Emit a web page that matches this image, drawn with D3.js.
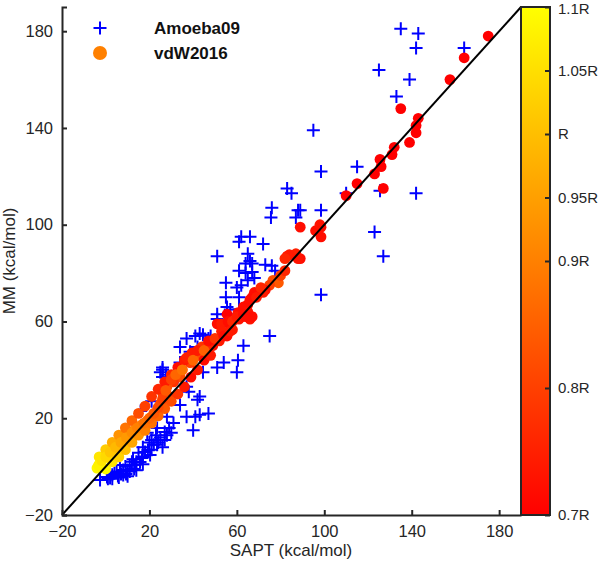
<!DOCTYPE html>
<html><head><meta charset="utf-8">
<script src="https://cdn.jsdelivr.net/npm/d3@7"></script>
<style>body{margin:0;background:#fff}svg{display:block}text{font-family:"Liberation Sans",Arial,sans-serif}</style>
</head><body>
<script>
// ---- data ----
const axisTicks = [-20, 20, 60, 100, 140, 180];
const cbTicks = [0.7, 0.8, 0.9, 0.95, 1.0, 1.05, 1.1];
const cbLabels = ["0.7R", "0.8R", "0.9R", "0.95R", "R", "1.05R", "1.1R"];
const seriesNames = ["Amoeba09", "vdW2016"];

const amoebaX = [135,143,142,164,125,139,133,95,98.5,115,142,110,125.5,89,98.5,123,127,98.5,83,85,76,75.6,88,87,62,66,51,61,72,65,66,64,67,73,76,77.5,64,67,61,65,68,62,55,60,55,61,55.5,51,57,55.5,61,51,75,63,41,44.5,48,37,34,42,47,42,60.5,54,26,34,51,60,26,44.5,37,43,38.6,43,25,27.6,30,26,33,38,42,37,41,40,21,16,28,29,31,23.5,25,21,23.5,17,15,12.5,11,8,5,3,0.6,10,6.5,43,47,19,12,9,4,-2.6,2,5.6,13.4,16.6,19.3,9.3,15.7,20.3,27,34,26,
  1,3,6,8,11,13,14,17,18,21,22,24,27,28,30,23,20,7,10,14,17];
const amoebaY = [181,179,173,173,164,160,153,139,122,124,113,113,114,106,106,97,87,71,115,113,107,103,106,103,95,95,87,93,92,88,85,84,84,83.5,83,81,80,80.5,81,77,78,75,76,74,70,70,66,63,65,63,65,61,54,50,54,54.5,54,53,49.5,49.5,53,47.5,44,43,40,43,41,39,37,39,33,29,47.5,55,39,38,37,41,37,31,27.6,20.6,20.6,15,27,23,20.6,16,18,16,12,11,9,8,5.7,3,0.7,-1.4,-2,-3.4,-4.3,-1.4,0.7,21.4,22,14,2,0,-2.6,-5.5,-4.7,-3.9,0.7,3.6,6.9,-3,1.9,4.8,14.3,25.5,8,
  -5,-5,-4.5,-3.5,-2,-1,2,4,6,7,9,10,11,13,14,13,10,-3,-4,-1.5,1];

const vdwX = [175,164,157.5,135,143,142,142,139,132,131,125.5,126,123,115,127,110,89,96,98.5,98.5,89,98,87,84,83,88,82,
  76.5,79,75,73,72,68,67,66,65,63,65,62,66,67,55.5,60.5,51,53,57,61,58,55.5,52,49,47,44,43,39.5,38.6,35,34,31,28,26,
  29,27,25,23.5,21,19,16,13,11,8,5.6,3.3,1,-1,-2.6,-4,
  -3,0,3,6,9,12,15,18,21,24,27,30,33,36,
  0,3,6,9,12,15,18,21,24,27,30,33,36,39,42,45,48,
  -3.3,-1.8,0,2,4.5,7,9.5,12,14.5,17.5,20,22,24,26,27.5,30,32,35,37,40,42,45,47,50,53,56,58,60,63,69,71,80,82,54,57,64];
const vdwY = [178,169,160,148,144,141,138,134,132,129,127,124,121,117,115,112,99,97.5,99,95,86,100,88,87.6,87,86,86,
  77,76,75,73,72,72,70,69,67,66,64,62,61,62,63,63.6,59,59,58,61,56.6,54,52,50,49,49.5,46,47,43,40,37,35,33,30.5,
  29,27.6,26,23,20.6,19,17,15,13,11,9,7,4.8,3.6,1.5,-0.6,
  4,7,10,13,16,19,22,25,29,32,35,38,41,44,
  -1,2,4,7,10,13,15,18,21,24,27,30,33,37,40,44,46,
  0.5,2.5,4,6,8,10,12,14,16,18,20,22,24.5,28,31.5,36,38,40,45,44,48,48,52,53,56,60,60,62,63,70,74,79,81,54,56,62];
const vdwR = [0.7,0.7,0.7,0.7,0.7,0.7,0.7,0.7,0.7,0.7,0.7,0.7,0.7,0.7,0.7,0.7,0.72,0.72,0.72,0.72,0.72,0.73,0.75,0.74,0.74,0.73,0.76,
  0.82,0.84,0.8,0.72,0.74,0.72,0.72,0.72,0.72,0.72,0.73,0.72,0.73,0.72,0.7,0.72,0.72,0.74,0.72,0.73,0.74,0.72,0.74,0.73,0.76,0.78,0.82,0.74,0.8,0.76,0.82,0.78,0.82,0.8,
  0.78,0.85,0.82,0.86,0.84,0.88,0.9,0.92,0.94,0.95,0.98,1.0,1.02,1.05,1.07,1.09,
  1.06,1.02,0.97,0.93,0.88,0.86,0.82,0.8,0.78,0.76,0.74,0.76,0.72,0.74,
  1.09,1.06,1.03,1.0,0.96,0.93,0.9,0.88,0.86,0.84,0.82,0.78,0.74,0.72,0.74,0.72,0.74,
  1.08,1.06,1.04,1.01,0.99,0.96,0.94,0.92,0.9,0.88,0.86,0.84,0.82,0.8,0.84,0.8,0.86,0.88,0.75,0.86,0.74,0.85,0.72,0.78,0.74,0.72,0.76,0.74,0.72,0.74,0.76,0.8,0.76,0.72,0.74,0.72];
const legendR = 0.9;

// ---- chart ----
const W = 600, H = 561;
const svg = d3.select("body").append("svg").attr("width", W).attr("height", H);
const x = d3.scaleLinear([-20, 190], [62, 521]);
const y = d3.scaleLinear([-20, 190], [515, 7]);
const cScale = d3.scaleLinear([0.7, 1.1], [0, 1]).clamp(true);
const autumn = v => d3.rgb(255, Math.round(255 * cScale(v)), 0).toString();
const axisColor = "#262626";

// Amoeba09 pluses
const plus = "M-6.5,0H6.5M0,-6.5V6.5";
svg.append("g").selectAll("path").data(amoebaX.map((v, i) => [v, amoebaY[i]]))
  .join("path").attr("d", plus)
  .attr("transform", d => `translate(${x(d[0])},${y(d[1])})`)
  .attr("stroke", "#0000ff").attr("stroke-width", 2).attr("fill", "none");

// vdW2016 circles
svg.append("g").selectAll("circle").data(vdwX.map((v, i) => [v, vdwY[i], vdwR[i]]))
  .join("circle").attr("cx", d => x(d[0])).attr("cy", d => y(d[1])).attr("r", 5.4)
  .attr("fill", d => autumn(d[2]));

// diagonal
svg.append("line").attr("x1", x(-20)).attr("y1", y(-20)).attr("x2", x(190)).attr("y2", y(190))
  .attr("stroke", "#000").attr("stroke-width", 2);

// axes
const fs = "16.5px";
const gx = svg.append("g").attr("transform", `translate(0,${y(-20)})`)
  .call(d3.axisBottom(x).tickValues(axisTicks).tickFormat(d3.format("d")).tickSizeInner(-5).tickSizeOuter(0).tickPadding(10));
const gy = svg.append("g").attr("transform", `translate(${x(-20)},0)`)
  .call(d3.axisLeft(y).tickValues(axisTicks).tickFormat(d3.format("d")).tickSizeInner(-5).tickSizeOuter(-5).tickPadding(9));
[gx, gy].forEach(g => {
  g.select(".domain").attr("stroke", axisColor).attr("stroke-width", 2);
  g.selectAll(".tick line").attr("stroke", axisColor).attr("stroke-width", 2);
  g.selectAll(".tick text").attr("fill", axisColor).style("font-size", fs).attr("font-family", null);
});
gx.selectAll(".tick text").attr("dy", "0.71em");

svg.append("text").attr("x", 291).attr("y", 556).attr("text-anchor", "middle")
  .attr("fill", axisColor).style("font-size", "17px").text("SAPT (kcal/mol)");
svg.append("text").attr("transform", `translate(15,${(y(-20) + y(190)) / 2}) rotate(-90)`)
  .attr("text-anchor", "middle").attr("fill", axisColor).style("font-size", "17px").text("MM (kcal/mol)");

// colorbar
const cb = d3.scaleLinear([0.7, 1.1], [515, 7]);
const defs = svg.append("defs");
const grad = defs.append("linearGradient").attr("id", "cbg").attr("x1", 0).attr("y1", 1).attr("x2", 0).attr("y2", 0);
[0.7, 0.8, 0.9, 1.0, 1.1].forEach(v => grad.append("stop").attr("offset", cScale(v)).attr("stop-color", autumn(v)));
const cbx0 = 521, cbx1 = 550;
svg.append("rect").attr("x", cbx0).attr("y", cb(1.1)).attr("width", cbx1 - cbx0).attr("height", cb(0.7) - cb(1.1))
  .attr("fill", "url(#cbg)").attr("stroke", axisColor).attr("stroke-width", 2);
const gc = svg.append("g").attr("transform", `translate(${cbx1},0)`)
  .call(d3.axisRight(cb).tickValues(cbTicks).tickFormat((d, i) => cbLabels[i]).tickSizeInner(-5).tickSizeOuter(0).tickPadding(8));
gc.select(".domain").remove();
gc.selectAll(".tick line").attr("stroke", axisColor).attr("stroke-width", 2);
gc.selectAll(".tick text").attr("fill", axisColor).style("font-size", "15px").attr("font-family", null);
gc.selectAll(".tick").filter(d => d === 1.1).select("text").attr("dy", "0.42em");

// legend
const lg = svg.append("g");
lg.append("path").attr("d", plus).attr("transform", "translate(100,28)")
  .attr("stroke", "#0000ff").attr("stroke-width", 2).attr("fill", "none");
lg.append("circle").attr("cx", 100).attr("cy", 53).attr("r", 7).attr("fill", autumn(legendR));
lg.append("text").attr("x", 154).attr("y", 34).style("font-size", "17px").style("font-weight", "bold")
  .attr("fill", "#111").text(seriesNames[0]);
lg.append("text").attr("x", 154).attr("y", 59).style("font-size", "17px").style("font-weight", "bold")
  .attr("fill", "#111").text(seriesNames[1]);
</script>
</body></html>
